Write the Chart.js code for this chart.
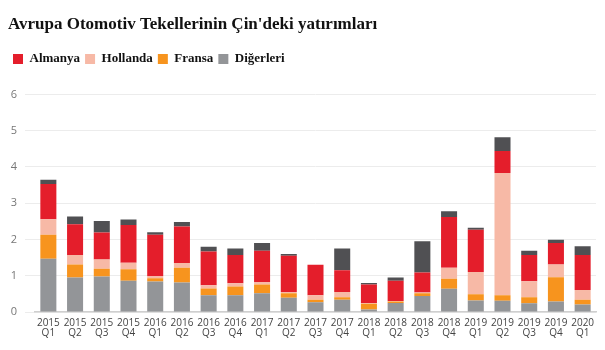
<!DOCTYPE html>
<html>
<head>
<meta charset="utf-8">
<script src="https://cdn.jsdelivr.net/npm/chart.js@4"></script>
<style>
  html, body { margin: 0; padding: 0; background: #fff; }
  #wrap { width: 605px; height: 350px; }
</style>
</head>
<body>
<div id="wrap"><canvas id="yatirimChart"></canvas></div>
<script>
// quarters on the x axis
const years = ['2015','2015','2015','2015','2016','2016','2016','2016','2017','2017','2017','2017',
               '2018','2018','2018','2018','2019','2019','2019','2019','2020'];
const quarters = ['Q1','Q2','Q3','Q4','Q1','Q2','Q3','Q4','Q1','Q2','Q3','Q4',
                  'Q1','Q2','Q3','Q4','Q1','Q2','Q3','Q4','Q1'];

// stacked values, bottom to top
const digerleri = [1.47,0.95,0.98,0.86,0.84,0.81,0.46,0.46,0.52,0.39,0.27,0.34,0.07,0.25,0.44,0.64,0.32,0.31,0.24,0.29,0.21];
const fransa    = [0.66,0.36,0.21,0.32,0.09,0.41,0.19,0.24,0.24,0.13,0.07,0.07,0.16,0.04,0.08,0.28,0.17,0.15,0.17,0.67,0.13];
const hollanda  = [0.43,0.26,0.26,0.18,0.06,0.13,0.09,0.09,0.07,0.03,0.12,0.14,0.02,0.01,0.02,0.30,0.61,3.37,0.44,0.35,0.27];
const almanya   = [0.97,0.85,0.74,1.04,1.14,1.01,0.93,0.78,0.86,1.00,0.84,0.60,0.51,0.56,0.55,1.40,1.17,0.61,0.72,0.59,0.96];
const diger2    = [0.12,0.21,0.32,0.15,0.07,0.12,0.13,0.18,0.21,0.05,0.00,0.60,0.04,0.09,0.86,0.16,0.05,0.38,0.12,0.09,0.24];

const yTicks = [0, 1, 2, 3, 4, 5, 6];

const labels = years.map((y, i) => [y, quarters[i]]);

// extra space between legend and plot
const legendGap = {
  id: 'legendGap',
  beforeInit(chart) {
    const fit = chart.legend.fit;
    chart.legend.fit = function () {
      fit.bind(chart.legend)();
      this.height += 19;
    };
  }
};

const ctx = document.getElementById('yatirimChart').getContext('2d');
new Chart(ctx, {
  type: 'bar',
  data: {
    labels: labels,
    datasets: [
      { label: 'Diğerleri', data: digerleri, backgroundColor: '#939598' },
      { label: 'Fransa', data: fransa, backgroundColor: '#F7941E' },
      { label: 'Hollanda', data: hollanda, backgroundColor: '#F7B9A6' },
      { label: 'Almanya', data: almanya, backgroundColor: '#E41E2B' },
      { label: '', data: diger2, backgroundColor: '#505053' }
    ]
  },
  options: {
    responsive: true,
    maintainAspectRatio: false,
    animation: false,
    layout: { padding: { left: 8, right: 9, top: 10, bottom: 6 } },
    datasets: { bar: { barPercentage: 0.6, categoryPercentage: 1.0 } },
    plugins: {
      title: {
        display: true,
        text: "Avrupa Otomotiv Tekellerinin Çin'deki yatırımları",
        align: 'start',
        color: '#111',
        font: { family: 'Liberation Serif', size: 17, weight: 'bold' },
        padding: { top: 4, bottom: 13 }
      },
      legend: {
        display: true,
        align: 'start',
        labels: {
          boxWidth: 10,
          boxHeight: 10,
          padding: 5,
          color: '#111',
          font: { family: 'Liberation Serif', size: 13, weight: 'bold' },
          sort: (a, b) => b.datasetIndex - a.datasetIndex,
          filter: (item) => item.text !== ''
        }
      },
      tooltip: { enabled: false }
    },
    scales: {
      x: {
        stacked: true,
        grid: { display: false, drawTicks: false },
        border: { display: true, color: '#cfcfcf', width: 1.5 },
        ticks: {
          color: '#444',
          padding: 6,
          maxRotation: 0,
          autoSkip: false,
          font: { family: 'Open Sans', size: 10, lineHeight: 1.0 }
        }
      },
      y: {
        stacked: true,
        min: 0,
        max: 6,
        afterBuildTicks: (axis) => { axis.ticks = yTicks.map(v => ({ value: v })); },
        afterFit: (axis) => { axis.width = 27; },
        border: { display: false },
        grid: { color: '#ececec', tickColor: '#ececec', drawTicks: true, tickLength: 10 },
        ticks: {
          color: '#777',
          padding: 8,
          font: { family: 'Open Sans', size: 11 }
        }
      }
    }
  },
  plugins: [legendGap]
});
</script>
</body>
</html>
